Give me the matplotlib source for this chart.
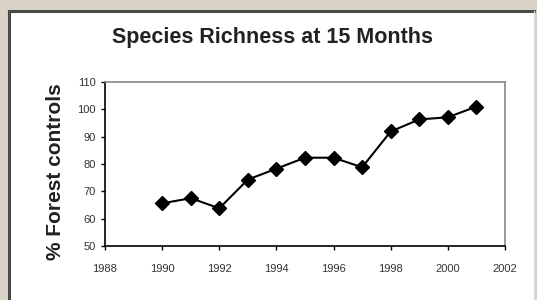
import matplotlib
matplotlib.use("Agg")
import matplotlib.pyplot as plt
from matplotlib.lines import Line2D
from matplotlib.patches import Rectangle

# data
years = [1990, 1991, 1992, 1993, 1994, 1995, 1996, 1997, 1998, 1999, 2000, 2001]
pct_forest = [65.6, 67.5, 63.8, 74.3, 78.3, 82.3, 82.3, 78.8, 91.9, 96.3, 97.1, 101.0]
x_ticks = [1988, 1990, 1992, 1994, 1996, 1998, 2000, 2002]
y_ticks = [50, 60, 70, 80, 90, 100, 110]

plt.rcParams["font.family"] = ["Liberation Sans", "DejaVu Sans"]

fig = plt.figure(figsize=(5.37, 3.0), dpi=100)
fig.patch.set_facecolor("#d9d3c8")

# white panel with dark frame
W, H = 537.0, 300.0
panel = Rectangle((9 / W, 0), (534 - 9) / W, 1 - 11 / H, transform=fig.transFigure,
                  facecolor="white", edgecolor="none", zorder=-5)
fig.patches.append(panel)
fig.lines.append(Line2D([9 / W, 9 / W], [0, 1 - 11 / H], transform=fig.transFigure,
                        color="#4a4a4a", lw=2.2, zorder=-4))
fig.lines.append(Line2D([9 / W, 534 / W], [1 - 11 / H, 1 - 11 / H], transform=fig.transFigure,
                        color="#4a4a4a", lw=2.2, zorder=-4))
fig.lines.append(Line2D([534 / W, 534 / W], [0, 1 - 11 / H], transform=fig.transFigure,
                        color="#dddddd", lw=1.0, zorder=-4))

ax = fig.add_axes([105 / W, 1 - 246 / H, 400 / W, (246 - 82) / H])
ax.set_zorder(2)
ax.plot(years, pct_forest, color="black", lw=1.5, marker="D", ms=7,
        markerfacecolor="black", markeredgecolor="black")

ax.set_xlim(1988, 2002)
ax.set_ylim(50, 110)
ax.set_xticks(x_ticks)
ax.set_yticks(y_ticks)
ax.tick_params(axis="both", labelsize=8, length=3, width=1, direction="out",
               colors="black", labelcolor="#333333")
ax.tick_params(axis="x", pad=10)

for side in ["left", "bottom"]:
    ax.spines[side].set_color("black")
    ax.spines[side].set_linewidth(1.2)
for side in ["top", "right"]:
    ax.spines[side].set_color("#888888")
    ax.spines[side].set_linewidth(1.2)

fig.text(273 / W, 1 - 38 / H, "Species Richness at 15 Months", ha="center", va="center",
         fontsize=15.5, fontweight="bold", color="#222222")
fig.text(56 / W, 1 - 172 / H, "% Forest controls", ha="center", va="center", rotation=90,
         fontsize=15, fontweight="bold", color="#222222")

fig.savefig("out.png", dpi=100, facecolor=fig.get_facecolor())
